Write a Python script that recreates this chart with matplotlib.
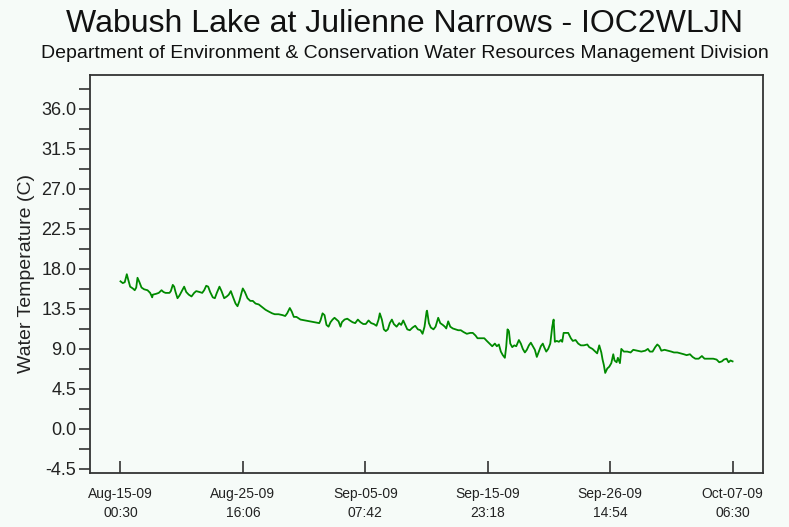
import datetime as dt
import matplotlib
matplotlib.use("Agg")
import matplotlib.pyplot as plt
import matplotlib.dates as mdates

plt.rcParams['font.family'] = ['Liberation Sans', 'DejaVu Sans']

start = dt.datetime(2009, 8, 15, 0, 30)

# days since start, water temperature (C)
days = [0, 0.20, 0.37, 0.55, 0.67, 0.84, 1.07, 1.24, 1.37, 1.48,
        1.65, 1.83, 2.06, 2.35, 2.58, 2.76, 2.81, 3.11, 3.33, 3.57,
        3.74, 3.92, 4.26, 4.38, 4.55, 4.67, 4.79, 4.96, 5.13, 5.37,
        5.54, 5.72, 5.94, 6.18, 6.41, 6.59, 6.87, 7.11, 7.28, 7.46,
        7.63, 7.80, 8.03, 8.21, 8.38, 8.61, 8.79, 9.02, 9.25, 9.42,
        9.60, 9.77, 10.01, 10.18, 10.35, 10.53, 10.64, 10.82, 11.05, 11.29,
        11.51, 11.75, 12.03, 12.33, 12.62, 12.90, 13.20, 13.42,
        13.75, 14.10, 14.33, 14.50, 14.73, 14.90, 15.08, 15.31, 15.66, 16.07,
        16.47, 16.88, 17.29, 17.40, 17.58, 17.75, 17.92, 18.10, 18.27, 18.45,
        18.62, 18.79, 18.97, 19.14, 19.26, 19.49, 19.73, 19.95, 20.19, 20.42,
        20.65, 20.88, 21.12, 21.34, 21.58, 21.81, 22.04, 22.27, 22.45, 22.56,
        22.74, 22.91, 23.08, 23.26, 23.43, 23.61, 23.78, 24.02, 24.25, 24.42,
        24.60, 24.77, 24.95, 25.17, 25.41, 25.64, 25.87, 26.10, 26.28, 26.45,
        26.63, 26.67, 26.83, 27.00, 27.23, 27.41, 27.64, 27.82, 28.04, 28.22,
        28.34, 28.51, 28.69, 28.91, 29.15, 29.38, 29.61, 29.84, 30.13, 30.43,
        30.65, 30.89, 31.06, 31.35, 31.65, 31.87, 32.11, 32.34, 32.57, 32.74,
        32.92, 33.09, 33.26, 33.44, 33.56, 33.67, 33.79, 33.91, 34.08, 34.26,
        34.43, 34.66, 34.83, 35.00, 35.18, 35.35, 35.53, 35.70, 35.87, 36.05,
        36.22, 36.40, 36.57, 36.74, 36.86, 37.04, 37.21, 37.39, 37.56, 37.68,
        37.79, 37.96, 38.14, 38.31, 38.43, 38.55, 38.72, 38.95, 39.18, 39.35,
        39.59, 39.82, 40.05, 40.31, 40.61, 40.78, 41.06, 41.30, 41.47, 41.65,
        41.83, 41.94, 42.05, 42.17, 42.35, 42.52, 42.70, 42.87, 42.98, 43.16,
        43.27, 43.45, 43.57, 43.79, 44.09, 44.38, 44.61, 44.96, 45.31, 45.65,
        45.88, 46.05, 46.29, 46.52, 46.70, 46.87, 47.05, 47.33, 47.62, 47.92,
        48.15, 48.44, 48.73, 49.01, 49.25, 49.54, 49.77, 50.01, 50.30, 50.58,
        50.81, 51.16, 51.57, 51.86, 52.09, 52.32, 52.49, 52.73, 52.90, 53.07,
        53.25]
temps = [16.6, 16.4, 16.5, 17.4, 16.8, 16.0, 15.8, 15.6, 15.9, 17.0,
         16.5, 15.9, 15.7, 15.6, 15.3, 14.8, 15.1, 15.2, 15.3, 15.6,
         15.4, 15.3, 15.3, 15.5, 16.2, 16.0, 15.4, 14.7, 15.0, 15.6,
         16.0, 15.4, 15.1, 14.9, 15.3, 15.5, 15.4, 15.3, 15.6, 16.1,
         16.0, 15.4, 14.8, 14.7, 15.3, 16.0, 15.5, 14.7, 14.9, 15.1,
         15.5, 14.9, 14.1, 13.8, 14.4, 15.3, 15.8, 15.4, 14.7, 14.4,
         14.4, 14.1, 14.0, 13.7, 13.4, 13.2, 13.0, 12.9,
         12.9, 12.8, 12.7, 13.0, 13.6, 13.2, 12.6, 12.6, 12.3, 12.2,
         12.1, 12.0, 11.9, 12.2, 13.0, 12.8, 11.7, 11.5, 12.0, 12.3,
         12.5, 12.3, 12.1, 11.5, 12.0, 12.3, 12.4, 12.2, 12.0, 11.9,
         12.3, 12.0, 11.8, 11.8, 12.2, 11.9, 11.8, 11.6, 12.3, 13.0,
         12.3, 11.2, 11.0, 11.2, 11.9, 12.3, 11.8, 11.5, 11.9, 11.7,
         12.2, 11.7, 11.2, 11.1, 11.4, 11.6, 11.2, 11.1, 10.7, 11.5,
         13.2, 13.3, 11.9, 11.4, 11.2, 11.5, 12.5, 11.9, 11.7, 11.5,
         11.3, 12.1, 11.5, 11.3, 11.2, 11.1, 11.1, 10.9, 10.7, 10.8,
         10.8, 10.5, 10.2, 10.2, 10.2, 9.9, 9.6, 9.3, 9.6, 9.3,
         9.5, 8.7, 8.3, 8.0, 9.3, 11.2, 11.0, 9.6, 9.2, 9.4,
         9.3, 10.0, 9.6, 9.0, 8.6, 8.9, 9.4, 9.7, 9.3, 8.9,
         8.1, 8.7, 9.3, 9.6, 9.2, 8.7, 9.0, 9.6, 11.5, 12.3,
         9.8, 9.9, 9.8, 10.0, 9.8, 10.8, 10.8, 10.8, 10.2, 9.9,
         10.0, 9.6, 9.4, 9.4, 9.5, 9.2, 9.0, 8.7, 8.5, 9.4,
         8.6, 7.8, 7.2, 6.3, 6.8, 7.0, 7.4, 8.4, 7.7, 7.5,
         8.0, 7.4, 9.0, 8.7, 8.7, 8.6, 8.9, 8.8, 8.7, 8.8,
         9.0, 8.7, 8.7, 9.2, 9.5, 9.3, 8.8, 8.9, 8.8, 8.7,
         8.6, 8.6, 8.5, 8.4, 8.3, 8.4, 8.1, 7.9, 7.9, 8.2,
         7.9, 7.9, 7.9, 7.8, 7.5, 7.6, 7.8, 7.9, 7.5, 7.7,
         7.6]

y_ticks = [-4.5, 0.0, 4.5, 9.0, 13.5, 18.0, 22.5, 27.0, 31.5, 36.0]
tick_step = dt.timedelta(days=10, hours=15, minutes=36)

bg = '#F6FBF8'
times = [start + dt.timedelta(days=d) for d in days]
x_ticks = [start + i * tick_step for i in range(6)]

fig = plt.figure(figsize=(7.89, 5.27), dpi=100, facecolor=bg)
ax = fig.add_axes([0.1141, 0.1025, 0.853, 0.7552], facecolor=bg)

ax.plot(times, temps, color='#008a00', lw=1.3)

pad = dt.timedelta(days=2.65)
ax.set_xlim(start - pad, times[-1] + pad)
ax.set_ylim(-4.95, 39.8)

ax.set_yticks(y_ticks)
ax.set_yticks([v + 2.25 for v in y_ticks], minor=True)
ax.yaxis.set_major_formatter(plt.FormatStrFormatter('%.1f'))
ax.set_xticks(x_ticks)
ax.xaxis.set_major_formatter(mdates.DateFormatter('%b-%d-%y\n%H:%M'))
ax.xaxis.set_minor_locator(plt.NullLocator())

ax.tick_params(axis='y', which='both', direction='out', length=8, width=1.2,
               color='#333333', labelsize=13, labelcolor='#222222', pad=2)
ax.tick_params(axis='x', which='major', direction='in', length=9, width=1.2,
               color='#333333', labelsize=10, labelcolor='#222222', pad=10)
for lab in ax.get_xticklabels():
    lab.set_linespacing(1.5)

for s in ax.spines.values():
    s.set_color('#333333')
    s.set_linewidth(1.3)

ax.set_ylabel('Water Temperature (C)', fontsize=14, color='#222222', labelpad=4)

fig.text(0.513, 0.954, 'Wabush Lake at Julienne Narrows - IOC2WLJN',
         ha='center', va='center', fontsize=23, color='#111111')
fig.text(0.513, 0.899, 'Department of Environment & Conservation Water Resources Management Division',
         ha='center', va='center', fontsize=14, color='#111111')

fig.savefig('out.png', dpi=100, facecolor=bg)
